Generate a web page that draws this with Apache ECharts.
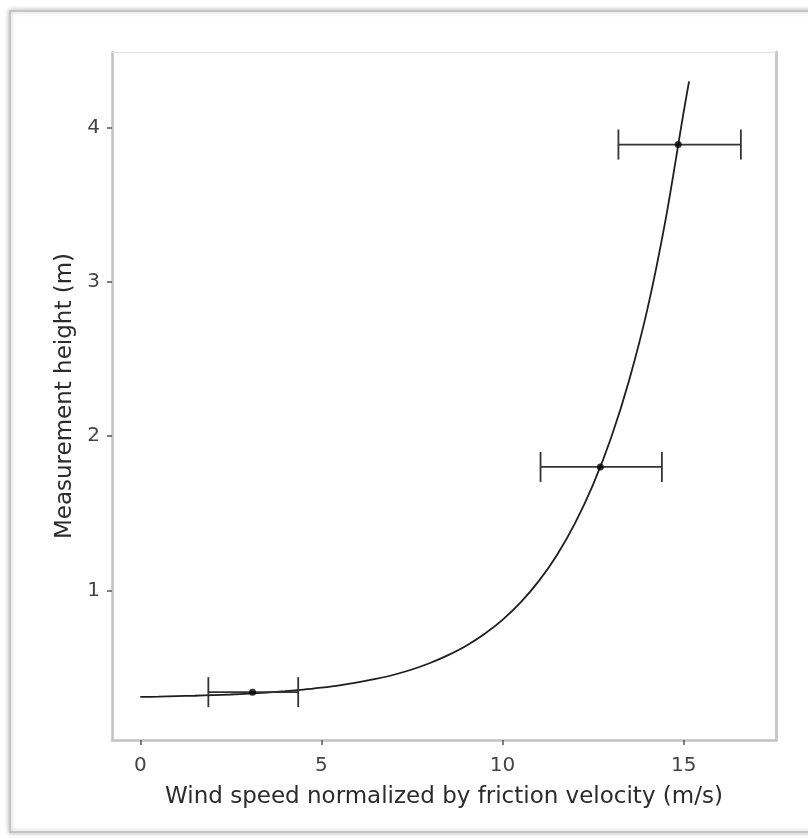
<!DOCTYPE html>
<html>
<head>
<meta charset="utf-8">
<script src="https://cdn.jsdelivr.net/npm/echarts@6/dist/echarts.min.js"></script>
<style>
html,body{margin:0;padding:0;background:#fff;}
#chart{width:808px;height:839px;}
</style>
</head>
<body>
<div id="chart"></div>
<script>
// Fitted wind profile curve: wind speed (x) and height (y)
const curveSpeed = [0, 0.5, 1, 1.5, 2, 2.5, 3, 3.5, 4, 4.5, 5, 5.5, 6, 6.5, 7, 7.5, 8, 8.5, 9, 9.5, 10, 10.5, 11, 11.5, 12, 12.5, 13, 13.5, 14, 14.5, 15, 15.15];
const curveHeight = [0.309, 0.311, 0.314, 0.317, 0.321, 0.325, 0.331, 0.338, 0.346, 0.356, 0.369, 0.384, 0.403, 0.426, 0.453, 0.487, 0.529, 0.580, 0.641, 0.717, 0.809, 0.922, 1.060, 1.228, 1.434, 1.685, 1.991, 2.366, 2.823, 3.400, 4.100, 4.300];

// Measured points with horizontal error bars
const pointSpeed = [3.1, 12.7, 14.85];
const pointHeight = [0.34, 1.80, 3.89];
const errLow = [1.88, 11.05, 13.2];
const errHigh = [4.36, 14.4, 16.58];

const xTicks = [0, 5, 10, 15];
const yTicks = [1, 2, 3, 4];

const xTitle = 'Wind speed normalized by friction velocity (m/s)';
const yTitle = 'Measurement height (m)';

const curveData = curveSpeed.map((x, i) => [x, curveHeight[i]]);
const pointData = pointSpeed.map((x, i) => [x, pointHeight[i]]);
const errData = pointSpeed.map((x, i) => [errLow[i], errHigh[i], pointHeight[i]]);

const FONT = 'DejaVu Sans';
const xMin = -0.78, xMax = 17.55, yMin = 0.03, yMax = 4.49;

const chart = echarts.init(document.getElementById('chart'), null, {renderer: 'canvas'});
chart.setOption({
  backgroundColor: '#ffffff',
  animation: false,
  graphic: [{
    type: 'rect',
    z: -10,
    shape: {x: 10, y: 11, width: 830, height: 821},
    style: {fill: '#ffffff', stroke: '#c4c4c4', lineWidth: 2, shadowBlur: 5, shadowColor: 'rgba(0,0,0,0.25)'}
  }],
  grid: {left: 112, right: 32, top: 52, bottom: 99, containLabel: false},
  xAxis: [{
    type: 'value', position: 'bottom', min: xMin, max: xMax,
    axisLine: {show: true, onZero: false, lineStyle: {color: '#c2c2c2', width: 2.5}},
    axisTick: {show: true, length: 5, customValues: xTicks, lineStyle: {color: '#555', width: 1.5}},
    axisLabel: {show: true, customValues: xTicks, color: '#444444', fontSize: 20, fontFamily: FONT, margin: 16},
    splitLine: {show: false},
    name: xTitle, nameLocation: 'middle', nameGap: 46,
    nameTextStyle: {color: '#2b2b2b', fontSize: 23, fontFamily: FONT}
  }, {
    type: 'value', position: 'top', min: xMin, max: xMax,
    axisLine: {show: true, onZero: false, lineStyle: {color: '#e3e3e3', width: 1}},
    axisTick: {show: false}, axisLabel: {show: false}, splitLine: {show: false}
  }],
  yAxis: [{
    type: 'value', position: 'left', min: yMin, max: yMax,
    axisLine: {show: true, onZero: false, lineStyle: {color: '#c2c2c2', width: 2.5}},
    axisTick: {show: true, length: 5, customValues: yTicks, lineStyle: {color: '#555', width: 1.5}},
    axisLabel: {show: true, customValues: yTicks, color: '#444444', fontSize: 20, fontFamily: FONT, margin: 12},
    splitLine: {show: false},
    name: yTitle, nameLocation: 'middle', nameGap: 33, nameRotate: 90,
    nameTextStyle: {color: '#2b2b2b', fontSize: 23, fontFamily: FONT}
  }, {
    type: 'value', position: 'right', min: yMin, max: yMax,
    axisLine: {show: true, onZero: false, lineStyle: {color: '#c8c8c8', width: 3}},
    axisTick: {show: false}, axisLabel: {show: false}, splitLine: {show: false}
  }],
  series: [{
    type: 'line',
    data: curveData,
    showSymbol: false,
    smooth: 0.3,
    xAxisIndex: 0, yAxisIndex: 0,
    lineStyle: {color: '#1e1e1e', width: 1.8},
    z: 3
  }, {
    type: 'custom',
    xAxisIndex: 0, yAxisIndex: 0,
    data: errData,
    renderItem: function (params, api) {
      const y = api.value(2);
      const p1 = api.coord([api.value(0), y]);
      const p2 = api.coord([api.value(1), y]);
      const h = 15;
      const style = {stroke: '#333333', lineWidth: 1.8, fill: null};
      return {
        type: 'group',
        children: [
          {type: 'line', shape: {x1: p1[0], y1: p1[1], x2: p2[0], y2: p2[1]}, style: style},
          {type: 'line', shape: {x1: p1[0], y1: p1[1] - h, x2: p1[0], y2: p1[1] + h}, style: style},
          {type: 'line', shape: {x1: p2[0], y1: p2[1] - h, x2: p2[0], y2: p2[1] + h}, style: style}
        ]
      };
    },
    z: 4
  }, {
    type: 'scatter',
    xAxisIndex: 0, yAxisIndex: 0,
    data: pointData,
    symbol: 'circle',
    symbolSize: 7,
    itemStyle: {color: '#000000'},
    z: 5
  }]
});
</script>
</body>
</html>
